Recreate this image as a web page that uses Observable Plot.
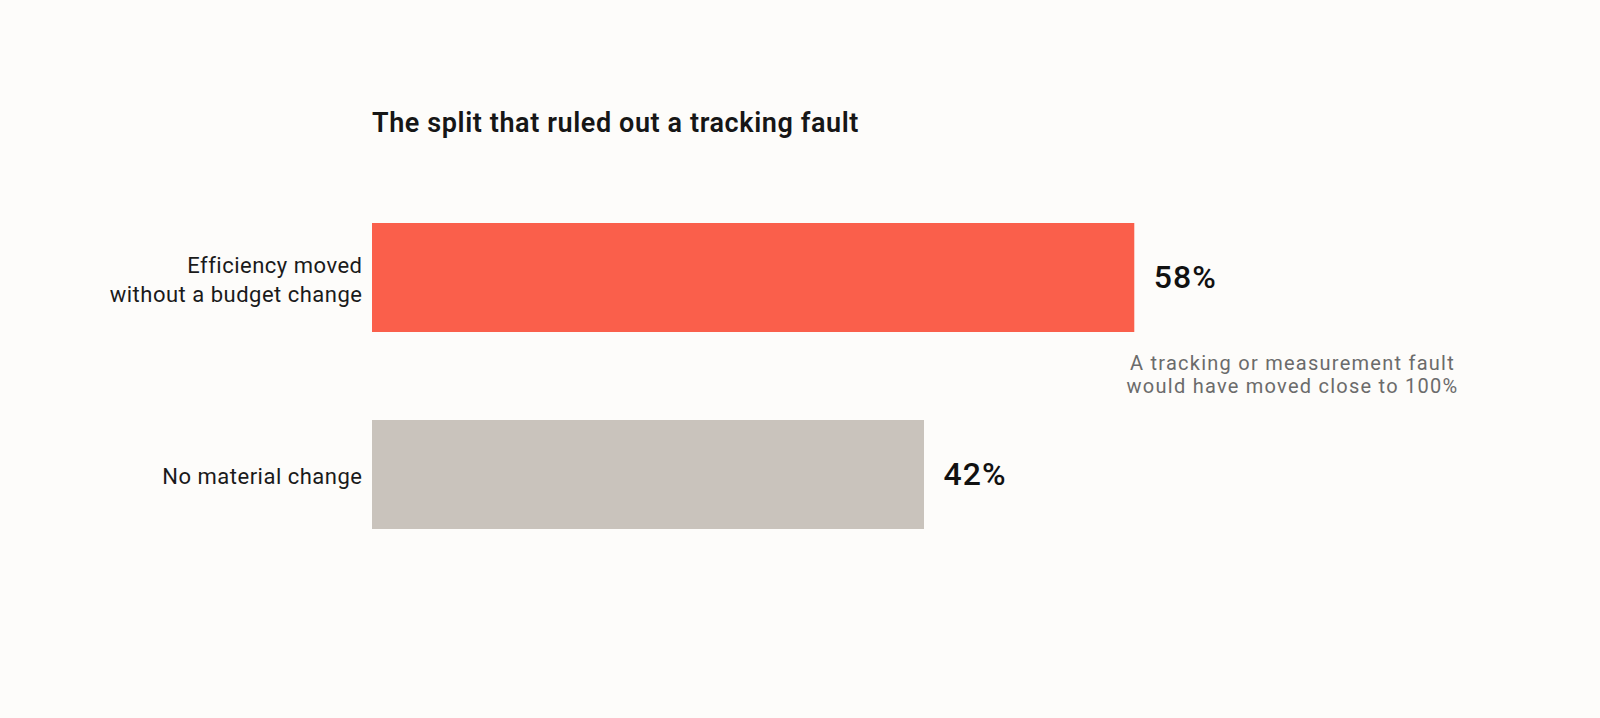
<!DOCTYPE html>
<html>
<head>
<meta charset="utf-8">
<script src="https://cdn.jsdelivr.net/npm/d3@7"></script>
<script src="https://cdn.jsdelivr.net/npm/@observablehq/plot@0.6"></script>
<style>
  html, body { margin: 0; padding: 0; background: #fdfcfa; }
  body { width: 1600px; height: 718px; overflow: hidden; font-family: Roboto, "Noto Sans", sans-serif; }
  #title { height: 180px; box-sizing: border-box; padding: 107px 0 0 372px; font-size: 27px; font-weight: 600; color: #161616; letter-spacing: 0.6px; }
  #chart svg { display: block; }
</style>
</head>
<body>
<div id="title">The split that ruled out a tracking fault</div>
<div id="chart"></div>
<script>
const categories = ["Efficiency moved\nwithout a budget change", "No material change"];
const values = [58, 42];
const colors = ["#fa5f4b", "#c9c3bc"];
const valueLabels = ["58%", "42%"];
const annotation = "A tracking or measurement fault\nwould have moved close to 100%";
const xMax = 70;

const data = categories.map((c, i) => ({cat: c, value: values[i], color: colors[i], label: valueLabels[i]}));

const chart = Plot.plot({
  width: 1600,
  height: 538,
  marginLeft: 372,
  marginRight: 308,
  marginTop: 20,
  marginBottom: 167,
  style: {background: "transparent", fontFamily: "Roboto, 'Noto Sans', sans-serif"},
  x: {domain: [0, xMax], axis: null},
  y: {domain: categories, axis: null, paddingInner: 0.449, paddingOuter: 0.111},
  marks: [
    Plot.barX(data, {x: "value", y: "cat", fill: "color"}),
    Plot.text(data, {x: 0, y: "cat", text: "cat", textAnchor: "end", dx: -10, fontSize: 22, lineHeight: 1.32, fill: "#1a1a1a"}),
    Plot.text(data, {x: "value", y: "cat", text: "label", textAnchor: "start", dx: 19, fontSize: 32, fontWeight: 500, fill: "#111"}),
    Plot.text([annotation], {frameAnchor: "right", y: () => categories[0], text: d => d, textAnchor: "middle", dy: 96, fontSize: 20, lineHeight: 1.15, fill: "#6b6b6b"})
  ]
});
const spacings = ["0.5px", "1px", "1.25px"];
d3.select(chart).selectAll("g[aria-label='text']").each(function(_, i) {
  d3.select(this).attr("letter-spacing", spacings[i]);
});
document.getElementById("chart").appendChild(chart);
</script>
</body>
</html>
